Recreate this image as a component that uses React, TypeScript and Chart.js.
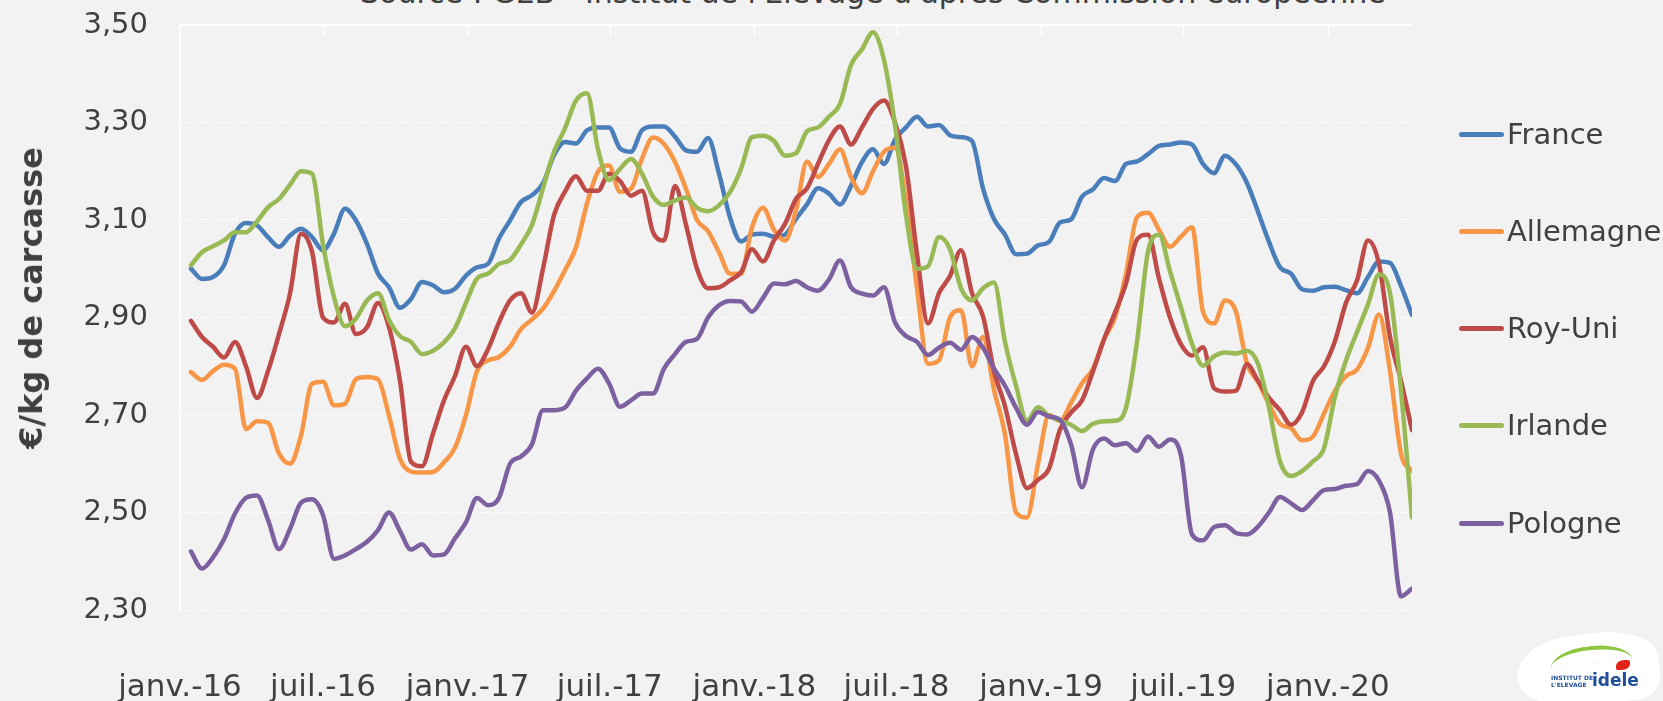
import React, { useEffect, useRef } from "react";
import { Chart, registerables } from "chart.js";

Chart.register(...registerables);

// Bi-weekly samples starting 15 Jan 2016 (day offsets from 1 Jan 2016)
const sampleStart = "2016-01-15";
const sampleStepDays = 14;

const tickDates = ["2016-01-01", "2016-07-01", "2017-01-01", "2017-07-01", "2018-01-01", "2018-07-01", "2019-01-01", "2019-07-01", "2020-01-01"];
const tickLabels = ["janv.-16", "juil.-16", "janv.-17", "juil.-17", "janv.-18", "juil.-18", "janv.-19", "juil.-19", "janv.-20"];
const yTickValues = [2.3, 2.5, 2.7, 2.9, 3.1, 3.3, 3.5];

const seriesNames = ["France", "Allemagne", "Roy-Uni", "Irlande", "Pologne"];
const seriesColors = ["#4A7EBB", "#F79646", "#BE4B48", "#98B954", "#7D60A0"];

const france = [
  3.000, 2.979, 2.983, 3.007, 3.072, 3.094, 3.089, 3.065, 3.045, 3.068,
  3.082, 3.065, 3.038, 3.072, 3.123, 3.099, 3.051, 2.990, 2.962, 2.920,
  2.938, 2.973, 2.966, 2.952, 2.959, 2.986, 3.003, 3.010, 3.062, 3.099,
  3.137, 3.151, 3.175, 3.233, 3.260, 3.257, 3.284, 3.290, 3.290, 3.247,
  3.240, 3.284, 3.292, 3.292, 3.271, 3.243, 3.240, 3.268, 3.195, 3.105,
  3.056, 3.070, 3.072, 3.066, 3.070, 3.102, 3.132, 3.165, 3.154, 3.132,
  3.170, 3.219, 3.245, 3.215, 3.265, 3.290, 3.312, 3.292, 3.295, 3.274,
  3.270, 3.262, 3.165, 3.102, 3.070, 3.030, 3.031, 3.048, 3.055, 3.095,
  3.101, 3.148, 3.163, 3.186, 3.180, 3.215, 3.220, 3.235, 3.252, 3.255,
  3.259, 3.255, 3.215, 3.196, 3.232, 3.214, 3.176, 3.117, 3.055, 3.003,
  2.990, 2.958, 2.955, 2.962, 2.963, 2.956, 2.950, 2.983, 3.015, 3.012,
  2.965, 2.905,
];

const allemagne = [
  2.788, 2.772, 2.790, 2.803, 2.795, 2.671, 2.687, 2.684, 2.621, 2.600,
  2.658, 2.764, 2.768, 2.720, 2.723, 2.774, 2.778, 2.773, 2.699, 2.610,
  2.584, 2.582, 2.583, 2.603, 2.633, 2.700, 2.790, 2.812, 2.819, 2.840,
  2.876, 2.896, 2.918, 2.954, 2.997, 3.044, 3.134, 3.199, 3.212, 3.158,
  3.164, 3.226, 3.269, 3.256, 3.219, 3.164, 3.100, 3.077, 3.034, 2.990,
  2.990, 3.085, 3.125, 3.080, 3.058, 3.120, 3.220, 3.188, 3.215, 3.245,
  3.188, 3.155, 3.200, 3.240, 3.248, 3.140, 2.960, 2.805, 2.812, 2.900,
  2.915, 2.800, 2.860, 2.752, 2.660, 2.500, 2.490, 2.600, 2.700, 2.688,
  2.725, 2.765, 2.795, 2.855, 2.900, 2.990, 3.106, 3.115, 3.080, 3.045,
  3.066, 3.085, 2.912, 2.888, 2.935, 2.912, 2.805, 2.768, 2.722, 2.682,
  2.673, 2.648, 2.656, 2.703, 2.750, 2.780, 2.793, 2.838, 2.906, 2.790,
  2.621, 2.585,
];

const royUni = [
  2.893, 2.860, 2.840, 2.818, 2.850, 2.800, 2.735, 2.790, 2.866, 2.949,
  3.072, 3.035, 2.900, 2.890, 2.928, 2.866, 2.880, 2.930, 2.880, 2.770,
  2.604, 2.595, 2.662, 2.730, 2.780, 2.840, 2.800, 2.835, 2.890, 2.935,
  2.950, 2.910, 3.000, 3.110, 3.158, 3.190, 3.160, 3.160, 3.195, 3.180,
  3.150, 3.160, 3.075, 3.058, 3.170, 3.090, 3.000, 2.960, 2.962, 2.976,
  2.993, 3.040, 3.015, 3.058, 3.092, 3.143, 3.165, 3.215, 3.264, 3.292,
  3.255, 3.290, 3.328, 3.345, 3.300, 3.210, 3.030, 2.888, 2.950, 2.985,
  3.038, 2.950, 2.903, 2.790, 2.718, 2.620, 2.550, 2.567, 2.590, 2.670,
  2.705, 2.730, 2.790, 2.855, 2.910, 2.970, 3.060, 3.070, 2.980, 2.900,
  2.845, 2.822, 2.839, 2.755, 2.748, 2.750, 2.804, 2.770, 2.735, 2.710,
  2.680, 2.705, 2.770, 2.800, 2.852, 2.930, 2.976, 3.058, 3.010, 2.860,
  2.770, 2.669,
];

const irlande = [
  3.007, 3.034, 3.046, 3.058, 3.075, 3.075, 3.097, 3.126, 3.143, 3.172,
  3.200, 3.195, 3.050, 2.942, 2.882, 2.898, 2.935, 2.950, 2.895, 2.862,
  2.850, 2.825, 2.832, 2.849, 2.878, 2.930, 2.980, 2.990, 3.010, 3.018,
  3.050, 3.090, 3.165, 3.240, 3.288, 3.345, 3.360, 3.245, 3.182, 3.205,
  3.225, 3.195, 3.148, 3.131, 3.140, 3.146, 3.125, 3.118, 3.130, 3.157,
  3.205, 3.270, 3.273, 3.262, 3.232, 3.237, 3.282, 3.290, 3.312, 3.338,
  3.418, 3.450, 3.485, 3.428, 3.295, 3.110, 3.000, 3.005, 3.065, 3.040,
  2.960, 2.935, 2.960, 2.972, 2.850, 2.760, 2.688, 2.716, 2.698, 2.689,
  2.680, 2.667, 2.682, 2.687, 2.688, 2.715, 2.850, 3.035, 3.070, 2.995,
  2.920, 2.846, 2.801, 2.820, 2.828, 2.826, 2.832, 2.805, 2.715, 2.605,
  2.575, 2.585, 2.605, 2.632, 2.738, 2.812, 2.870, 2.927, 2.988, 2.950,
  2.750, 2.490,
];

const pologne = [
  2.420, 2.385, 2.408, 2.445, 2.498, 2.530, 2.535, 2.485, 2.425, 2.466,
  2.520, 2.527, 2.495, 2.405, 2.412, 2.425, 2.440, 2.464, 2.500, 2.462,
  2.424, 2.435, 2.412, 2.414, 2.447, 2.480, 2.530, 2.515, 2.530, 2.600,
  2.615, 2.640, 2.710, 2.710, 2.715, 2.750, 2.775, 2.795, 2.765, 2.717,
  2.730, 2.744, 2.744, 2.795, 2.825, 2.850, 2.856, 2.900, 2.925, 2.934,
  2.933, 2.912, 2.940, 2.970, 2.968, 2.975, 2.962, 2.955, 2.978, 3.017,
  2.962, 2.949, 2.945, 2.962, 2.890, 2.862, 2.850, 2.823, 2.838, 2.848,
  2.834, 2.860, 2.838, 2.795, 2.760, 2.715, 2.680, 2.706, 2.697, 2.690,
  2.640, 2.552, 2.630, 2.652, 2.638, 2.642, 2.626, 2.656, 2.635, 2.650,
  2.617, 2.455, 2.443, 2.470, 2.474, 2.458, 2.455, 2.471, 2.500, 2.532,
  2.519, 2.505, 2.525, 2.546, 2.548, 2.555, 2.558, 2.585, 2.565, 2.500,
  2.328, 2.344,
];

const seriesValues = [france, allemagne, royUni, irlande, pologne];

const FONT = "'DejaVu Sans', 'Noto Sans', sans-serif";
const TEXT_COLOR = "#404040";

function dayOffset(iso: string): number {
  const [y, m, d] = iso.split("-").map(Number);
  return (Date.UTC(y, m - 1, d) - Date.UTC(2016, 0, 1)) / 86400000;
}

const firstSampleDay = dayOffset(sampleStart);
const sampleDays = france.map((_, i) => firstSampleDay + i * sampleStepDays);
const tickDays = tickDates.map(dayOffset);

const framePlugin = {
  id: "frame",
  beforeDatasetsDraw(chart: any) {
    const { ctx, chartArea } = chart;
    const { left, right, top, bottom } = chartArea;
    const xs = chart.scales.x;
    ctx.save();
    ctx.strokeStyle = "#ffffff";
    ctx.lineWidth = 2;
    ctx.beginPath();
    ctx.moveTo(left, top);
    ctx.lineTo(right, top);
    ctx.stroke();
    ctx.lineWidth = 1.5;
    ctx.beginPath();
    ctx.moveTo(left, top);
    ctx.lineTo(left, bottom);
    ctx.stroke();
    xs.ticks.forEach((t: any) => {
      const px = Math.round(xs.getPixelForValue(t.value)) + 0.5;
      ctx.beginPath();
      ctx.moveTo(px, top);
      ctx.lineTo(px, top + 11);
      ctx.stroke();
    });
    ctx.restore();
  },
};

const legendY = [134, 231, 328, 425, 523];

export default function App() {
  const canvasRef = useRef<HTMLCanvasElement | null>(null);

  useEffect(() => {
    if (!canvasRef.current) return;
    const chart = new Chart(canvasRef.current, {
      type: "line",
      data: {
        datasets: seriesNames.map((name, i) => ({
          label: name,
          data: seriesValues[i].map((v, j) => ({ x: sampleDays[j], y: v })),
          borderColor: seriesColors[i],
          backgroundColor: seriesColors[i],
          borderWidth: 4.5,
          pointRadius: 0,
          fill: false,
          cubicInterpolationMode: "monotone" as const,
          borderCapStyle: "round" as const,
          borderJoinStyle: "round" as const,
          order: seriesNames.length - i,
        })),
      },
      options: {
        animation: false,
        responsive: false,
        events: [],
        layout: { padding: { left: 0, right: 251, top: 25, bottom: 0 } },
        plugins: {
          legend: { display: false },
          tooltip: { enabled: false },
        },
        scales: {
          x: {
            type: "linear",
            position: "bottom",
            min: 0,
            max: sampleDays[sampleDays.length - 1],
            grid: { display: false, drawTicks: false },
            border: { display: false },
            afterBuildTicks: (scale: any) => {
              scale.ticks = tickDays.map((v) => ({ value: v }));
            },
            afterFit: (scale: any) => {
              scale.height = 91;
              scale.paddingLeft = 0;
              scale.paddingRight = 0;
            },
            ticks: {
              autoSkip: false,
              maxRotation: 0,
              minRotation: 0,
              padding: 59,
              color: TEXT_COLOR,
              font: { family: FONT, size: 31 },
              callback: (value: any) => {
                const idx = tickDays.indexOf(Number(value));
                return idx >= 0 ? tickLabels[idx] : "";
              },
            },
          },
          y: {
            type: "linear",
            position: "left",
            min: 2.3,
            max: 3.5,
            afterBuildTicks: (scale: any) => {
              scale.ticks = yTickValues.map((v) => ({ value: v }));
            },
            afterFit: (scale: any) => {
              scale.width = 180;
              scale.paddingTop = 0;
              scale.paddingBottom = 0;
            },
            grid: { color: "#ffffff", lineWidth: 1, drawTicks: false },
            border: { display: false, dash: [3, 2] },
            ticks: {
              padding: 32,
              color: TEXT_COLOR,
              font: { family: FONT, size: 29 },
              callback: (value: any) => Number(value).toFixed(2).replace(".", ","),
            },
          },
        },
      },
      plugins: [framePlugin],
    });
    return () => chart.destroy();
  }, []);

  return (
    <div
      style={{
        position: "fixed",
        left: 0,
        top: 0,
        width: 1663,
        height: 701,
        background: "#f2f2f2",
        overflow: "hidden",
        fontFamily: FONT,
      }}
    >
      <div
        style={{
          position: "absolute",
          left: 360,
          top: -22,
          fontSize: 30,
          lineHeight: "30px",
          color: TEXT_COLOR,
          whiteSpace: "nowrap",
        }}
      >
        Source : GEB - Institut de l'Elevage d'après Commission européenne
      </div>
      <canvas ref={canvasRef} width={1663} height={701} style={{ position: "absolute", left: 0, top: 0, width: 1663, height: 701 }} />
      <div
        style={{
          position: "absolute",
          left: 31,
          top: 298,
          transform: "translate(-50%, -50%) rotate(-90deg)",
          fontSize: 32,
          fontWeight: "bold",
          color: TEXT_COLOR,
          whiteSpace: "nowrap",
        }}
      >
        €/kg de carcasse
      </div>
      {seriesNames.map((name, i) => (
        <React.Fragment key={name}>
          <div
            style={{
              position: "absolute",
              left: 1459,
              top: legendY[i] - 2.5,
              width: 45,
              height: 5,
              borderRadius: 3,
              background: seriesColors[i],
            }}
          />
          <div
            style={{
              position: "absolute",
              left: 1507,
              top: legendY[i] - 14,
              fontSize: 29,
              lineHeight: "29px",
              color: TEXT_COLOR,
              whiteSpace: "nowrap",
            }}
          >
            {name}
          </div>
        </React.Fragment>
      ))}
      <div
        style={{
          position: "absolute",
          left: 1517,
          top: 634,
          width: 142,
          height: 72,
          background: "#ffffff",
          borderRadius: "45% 55% 20% 60% / 60% 50% 40% 60%",
          transform: "rotate(-8deg)",
        }}
      />
      <div
        style={{
          position: "absolute",
          left: 1550,
          top: 646,
          width: 82,
          height: 14,
          borderTop: "4px solid #8DC63F",
          borderRadius: "50% 50% 0 0 / 100% 100% 0 0",
          transform: "rotate(-6deg)",
        }}
      />
      <div
        style={{
          position: "absolute",
          left: 1616,
          top: 660,
          width: 14,
          height: 10,
          background: "#E2231A",
          borderRadius: "60% 20% 60% 20%",
        }}
      />
      <div
        style={{
          position: "absolute",
          left: 1551,
          top: 674,
          fontSize: 6,
          lineHeight: "7px",
          fontWeight: "bold",
          color: "#1F4E9A",
          whiteSpace: "nowrap",
        }}
      >
        INSTITUT DE
        <br />
        L'ELEVAGE
      </div>
      <div
        style={{
          position: "absolute",
          left: 1592,
          top: 672,
          fontSize: 17,
          lineHeight: "17px",
          fontWeight: "bold",
          color: "#1F4E9A",
          whiteSpace: "nowrap",
        }}
      >
        idele
      </div>
    </div>
  );
}
